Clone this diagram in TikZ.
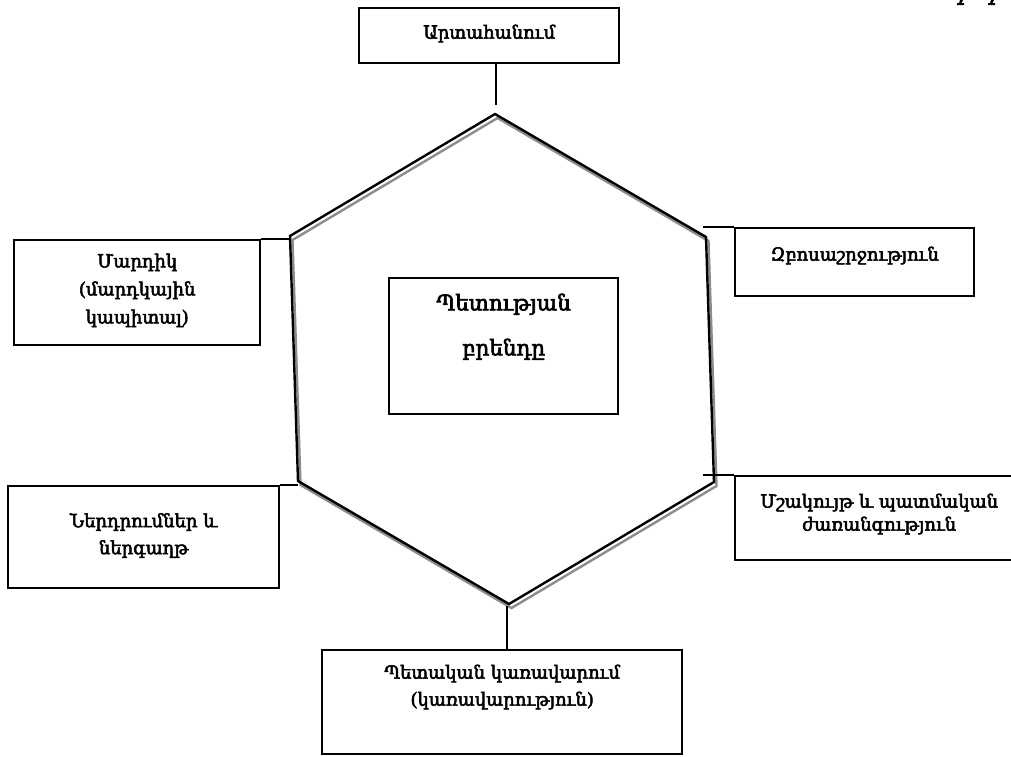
\documentclass[tikz,border=0pt]{standalone}
\usepackage{fontspec}
\setmainfont{DejaVu Serif}[BoldFont={DejaVu Serif},BoldFeatures={FakeBold=3}]
\begin{document}
\begin{tikzpicture}[x=1pt,y=-1pt,
  box/.style={draw=black,line width=2.4pt,rectangle,inner sep=0pt,anchor=north west},
  txt/.style={align=center,font=\fontsize{18}{27}\selectfont\bfseries,inner sep=0pt,anchor=north},
  conn/.style={draw=black,line width=2.4pt},
  hex/.style={draw=black,line width=2.4pt,line join=miter},
  hexsh/.style={draw=black!45,line width=2.4pt,line join=miter}]
\useasboundingbox (0,0) rectangle (1011,756);
\begin{scope}
\clip (0,0) rectangle (1011,756);
% hexagon vertices
\coordinate (ht) at (495,114);
\coordinate (hur) at (706,237);
\coordinate (hlr) at (714,482);
\coordinate (hb) at (509,604);
\coordinate (hll) at (298,481);
\coordinate (hul) at (290,236);
% shadow
\draw[hexsh] ([shift={(2.5,4)}]ht) -- ([shift={(2.5,4)}]hur) -- ([shift={(2.5,4)}]hlr) -- ([shift={(2.5,4)}]hb) -- ([shift={(2.5,4)}]hll) -- ([shift={(2.5,4)}]hul) -- cycle;
\draw[hex] (ht) -- (hur) -- (hlr) -- (hb) -- (hll) -- (hul) -- cycle;

% boxes
\node[box,minimum width=260,minimum height=55] (b1) at (358,7) {};
\node[box,minimum width=246,minimum height=105] (b2) at (13,239) {};
\node[box,minimum width=239,minimum height=68] (b3) at (734,227) {};
\node[box,minimum width=229,minimum height=136] (b4) at (388,277) {};
\node[box,minimum width=271,minimum height=102] (b5) at (7,485) {};
\node[box,minimum width=288,minimum height=84] (b6) at (734,475) {};
\node[box,minimum width=360,minimum height=104] (b7) at (321,649) {};

% texts
\node[txt] (t1) at ([yshift=-17.5]b1.north) {Արտահանում};
\node[txt,font=\fontsize{18}{28}\selectfont\bfseries] (t2) at ([yshift=-14.5]b2.north) {Մարդիկ\\(մարդկային\\կապիտալ)};
\node[txt] (t3) at ([yshift=-19.5]b3.north) {Զբոսաշրջություն};
\node[txt,font=\fontsize{21.5}{45}\selectfont\bfseries] (t4) at ([yshift=-16.5]b4.north) {Պետության\\բրենդը};
\node[txt] (t5) at ([yshift=-28]b5.north) {Ներդրումներ և\\ներգաղթ};
\node[txt,font=\fontsize{18}{23}\selectfont\bfseries] (t6) at ([yshift=-18.5]b6.north) {Մշակույթ և պատմական\\ժառանգություն};
\node[txt] (t7) at ([yshift=-15.5]b7.north) {Պետական կառավարում\\(կառավարություն)};

% connectors
\coordinate (c1) at (496,105);
\draw[conn] (b1.south -| c1) -- (c1);
\draw[conn] (b2.north east) -- (b2.north east -| hul);
\coordinate (c3) at (703,227);
\draw[conn] (c3) -- (b3.north west);
\draw[conn] (b5.north east) -- (b5.north east -| hll);
\coordinate (c6) at (703,475);
\draw[conn] (c6) -- (b6.north west);
\coordinate (c7) at (507,606);
\draw[conn] (c7) -- (c7 |- b7.north);

% cut-off italic glyph feet at top right
\fill (960,0) -- (963,0) -- (961.5,3) -- (964,3) -- (964,5) -- (957,5) -- (957,3) -- (959,3) -- cycle;
\fill (991,0) -- (994,0) -- (992.5,3) -- (995,3) -- (995,5) -- (988,5) -- (988,3) -- (990,3) -- cycle;
\end{scope}
\end{tikzpicture}
\end{document}
